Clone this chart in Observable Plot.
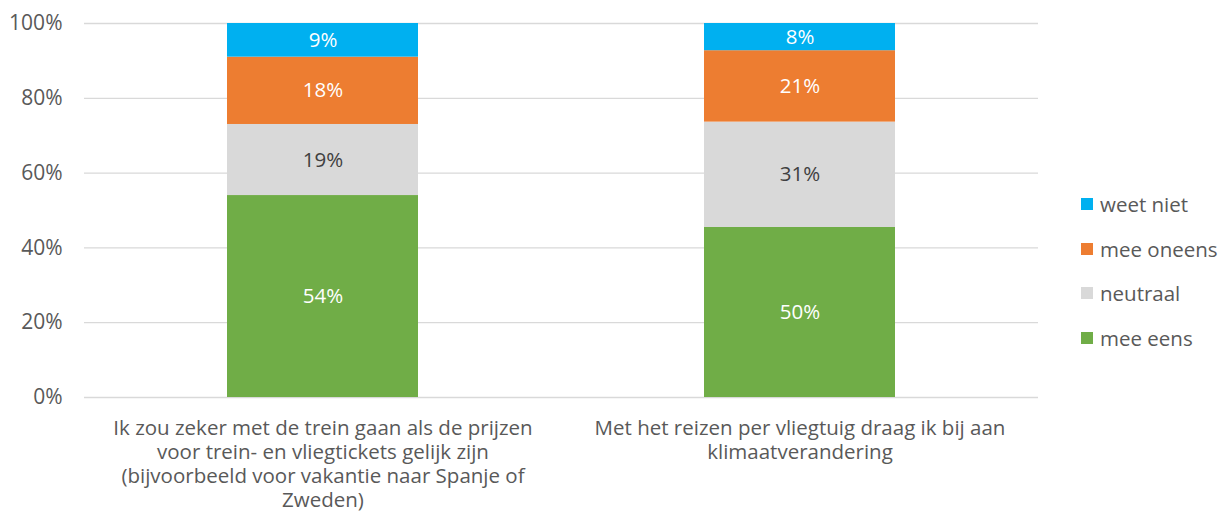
<!DOCTYPE html>
<html>
<head>
<meta charset="utf-8">
<script src="https://cdn.jsdelivr.net/npm/d3@7"></script>
<script src="https://cdn.jsdelivr.net/npm/@observablehq/plot@0.6"></script>
<style>
  html, body { margin: 0; padding: 0; background: #fff; }
  #wrap { position: relative; width: 1231px; height: 528px; font-family: "Open Sans", sans-serif; color: #595959; }
  #legend { position: absolute; left: 1081px; top: 191px; font-size: 20.5px; }
  .item { display: flex; align-items: center; height: 26px; margin-bottom: 18.7px; }
  .sw { width: 12px; height: 12px; margin-right: 7px; }
</style>
</head>
<body>
<div id="wrap"><div id="chart"></div><div id="legend"></div></div>
<script>
const categories = [
  "Ik zou zeker met de trein gaan als de prijzen voor trein- en vliegtickets gelijk zijn (bijvoorbeeld voor vakantie naar Spanje of Zweden)",
  "Met het reizen per vliegtuig draag ik bij aan klimaatverandering"
];
const categoryLabels = [
  "Ik zou zeker met de trein gaan als de prijzen\nvoor trein- en vliegtickets gelijk zijn\n(bijvoorbeeld voor vakantie naar Spanje of\nZweden)",
  "Met het reizen per vliegtuig draag ik bij aan\nklimaatverandering"
];
const series = ["mee eens", "neutraal", "mee oneens", "weet niet"];
const colors = ["#70AD47", "#D9D9D9", "#ED7D31", "#00B0F0"];
const meeEens = [54, 50];
const neutraal = [19, 31];
const meeOneens = [18, 21];
const weetNiet = [9, 8];
const yTicks = [0, 0.2, 0.4, 0.6, 0.8, 1];

const valuesBySeries = [meeEens, neutraal, meeOneens, weetNiet];
const data = [];
series.forEach((s, si) => categories.forEach((c, ci) => data.push({category: c, series: s, value: valuesBySeries[si][ci]})));

const stackOpts = {x: "category", y: "value", z: "series", offset: "normalize", order: series};

const chart = Plot.plot({
  width: 1231,
  height: 528,
  marginLeft: 84,
  marginRight: 193,
  marginTop: 23,
  marginBottom: 131,
  style: {fontFamily: "'Open Sans', sans-serif", color: "#595959", background: "#fff"},
  x: {type: "band", domain: categories, paddingInner: 0.6, paddingOuter: 0.3},
  y: {domain: [0, 1]},
  color: {domain: series, range: colors},
  marks: [
    Plot.gridY(yTicks, {stroke: "#D9D9D9", strokeOpacity: 1, strokeWidth: 1.3}),
    Plot.axisY({ticks: yTicks, tickFormat: d3.format(".0%"), tickSize: 0, tickPadding: 22, fontSize: 21, label: null}),
    Plot.axisX({tickSize: 0, tickPadding: 20, fontSize: 20.5, label: null, lineHeight: 1.175,
      tickFormat: d => categoryLabels[categories.indexOf(d)]}),
    Plot.barY(data, Plot.stackY({...stackOpts, fill: "series"})),
    Plot.text(data, Plot.stackY({...stackOpts, text: d => d.series === "neutraal" ? "" : d.value + "%", fill: "white", fontSize: 20.5})),
    Plot.text(data, Plot.stackY({...stackOpts, text: d => d.series === "neutraal" ? d.value + "%" : "", fill: "#404040", fontSize: 20.5}))
  ]
});
document.getElementById("chart").appendChild(chart);

const legend = document.getElementById("legend");
for (let i = series.length - 1; i >= 0; i--) {
  const item = document.createElement("div");
  item.className = "item";
  const sw = document.createElement("div");
  sw.className = "sw";
  sw.style.background = colors[i];
  const label = document.createElement("span");
  label.textContent = series[i];
  item.appendChild(sw);
  item.appendChild(label);
  legend.appendChild(item);
}
</script>
</body>
</html>
